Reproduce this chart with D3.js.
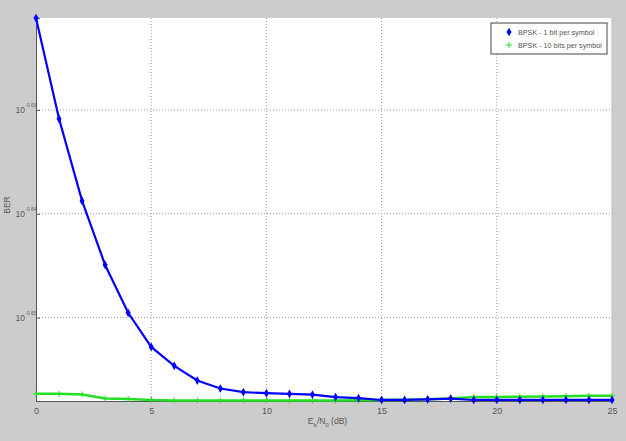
<!DOCTYPE html>
<html>
<head>
<meta charset="utf-8">
<script src="https://cdn.jsdelivr.net/npm/d3@7"></script>
<style>
  html, body { margin: 0; padding: 0; background: #cccccc; }
  svg { display: block; font-family: "Liberation Sans", Arial, sans-serif; }
</style>
</head>
<body>
<div id="js-chart"></div>
<script>
// Eb/N0 values (dB)
var ebno = d3.range(0, 26);
// BER, BPSK - 1 bit per symbol
var berOne = [0.23925, 0.23396, 0.22974, 0.22650, 0.22411, 0.22242, 0.22149, 0.22077,
    0.22038, 0.22020, 0.22015, 0.22012, 0.22008, 0.21996, 0.21991, 0.21982, 0.21982,
    0.21985, 0.21989, 0.21982, 0.21982, 0.21982, 0.21982, 0.21982, 0.21982, 0.21982];
// BER, BPSK - 10 bits per symbol
var berTen = [0.22012, 0.22012, 0.22009, 0.21989, 0.21987, 0.21982, 0.21980, 0.21980,
    0.21980, 0.21980, 0.21980, 0.21980, 0.21980, 0.21980, 0.21981, 0.21982, 0.21983,
    0.21985, 0.21989, 0.21996, 0.21997, 0.21998, 0.21999, 0.22000, 0.22002, 0.22002];
var xTicks = [0, 5, 10, 15, 20, 25];
var yTickExp = ["-0.63", "-0.64", "-0.65"];
var legendLabels = ["BPSK - 1 bit per symbol", "BPSK - 10 bits per symbol"];

var W = 626, H = 441;
var m = {left: 36, right: 14, top: 18, bottom: 40};
var iw = W - m.left - m.right, ih = H - m.top - m.bottom;

var svg = d3.select("#js-chart").append("svg")
    .attr("width", W).attr("height", H);
svg.append("rect").attr("width", W).attr("height", H).attr("fill", "#cccccc");

var g = svg.append("g").attr("transform", "translate(" + m.left + "," + m.top + ")");
g.append("rect").attr("width", iw).attr("height", ih).attr("fill", "#fff");

var x = d3.scaleLinear().domain([0, 25]).range([0, iw]);
var y = d3.scaleLog().domain([0.21977, 0.23925]).range([ih, 0]);

// 网格
var yTickVals = yTickExp.map(function (e) { return Math.pow(10, +e); });
g.selectAll(".gx").data(xTicks.slice(1, -1)).enter().append("line")
    .attr("x1", x).attr("x2", x).attr("y1", 0).attr("y2", ih)
    .attr("stroke", "#9a9a9a").attr("stroke-width", 1).attr("stroke-dasharray", "1,2");
g.selectAll(".gy").data(yTickVals).enter().append("line")
    .attr("x1", 0).attr("x2", iw).attr("y1", y).attr("y2", y)
    .attr("stroke", "#9a9a9a").attr("stroke-width", 1).attr("stroke-dasharray", "1,2");

// 坐标轴
var xAxis = g.append("g").attr("transform", "translate(0," + ih + ")")
    .call(d3.axisBottom(x).tickValues(xTicks).tickSize(-4).tickPadding(7).tickFormat(d3.format("d")));
var yAxis = g.append("g")
    .call(d3.axisLeft(y).tickValues(yTickVals).tickSize(-4).tickFormat(""));
[xAxis, yAxis].forEach(function (a) {
    a.select(".domain").attr("stroke", "#555");
    a.selectAll(".tick line").attr("stroke", "#555");
    a.selectAll("text").attr("fill", "#555").attr("font-size", 9);
});
g.append("line").attr("x1", iw).attr("x2", iw).attr("y1", 0).attr("y2", ih)
    .attr("stroke", "#bbb");

// y tick labels 10^exp
yTickVals.forEach(function (v, i) {
    g.append("text").attr("x", -11).attr("y", y(v) + 3)
        .attr("text-anchor", "end").attr("fill", "#555").attr("font-size", 8.5).text("10");
    g.append("text").attr("x", -10.5).attr("y", y(v) - 3)
        .attr("fill", "#555").attr("font-size", 4.8).text(yTickExp[i]);
});

// axis titles
svg.append("text").attr("transform", "translate(10,205) rotate(-90)")
    .attr("text-anchor", "middle").attr("fill", "#555").attr("font-size", 8.5).text("BER");
var xl = svg.append("text").attr("x", m.left + x(11.8)).attr("y", 424)
    .attr("fill", "#555").attr("font-size", 8.5);
xl.append("tspan").text("E");
xl.append("tspan").attr("font-size", 6).attr("dy", 3).text("b");
xl.append("tspan").attr("dy", -3).text("/N");
xl.append("tspan").attr("font-size", 6).attr("dy", 3).text("0");
xl.append("tspan").attr("dy", -3).text(" (dB)");

// 曲线
var line = d3.line().x(function (d) { return x(d[0]); }).y(function (d) { return y(d[1]); });
var series = [
    {data: d3.zip(ebno, berTen), color: "#22e022", width: 2.5, marker: "plus"},
    {data: d3.zip(ebno, berOne), color: "#0000ff", width: 2.2, marker: "diamond"}
];
var diamond = d3.symbol().type(d3.symbolDiamond).size(22);
series.forEach(function (s) {
    g.append("path").datum(s.data).attr("d", line).attr("fill", "none")
        .attr("stroke", s.color).attr("stroke-width", s.width);
    var pts = g.selectAll(null).data(s.data).enter().append("g")
        .attr("transform", function (d) { return "translate(" + x(d[0]) + "," + y(d[1]) + ")"; });
    if (s.marker === "plus") {
        pts.append("path").attr("d", "M-3,0H3M0,-3V3").attr("stroke", s.color).attr("stroke-width", 1);
    } else {
        pts.append("path").attr("d", diamond).attr("fill", s.color);
    }
});

// 图例
var lg = svg.append("g").attr("transform", "translate(491,23)");
lg.append("rect").attr("width", 116).attr("height", 31).attr("fill", "#fff")
    .attr("stroke", "#444").attr("stroke-width", 1);
legendLabels.forEach(function (t, i) {
    var yy = 9 + i * 13;
    if (i === 0) {
        lg.append("path").attr("transform", "translate(18," + yy + ")").attr("d", diamond).attr("fill", "#0000ff");
    } else {
        lg.append("path").attr("transform", "translate(18," + yy + ")")
            .attr("d", "M-3,0H3M0,-3V3").attr("stroke", "#22e022").attr("stroke-width", 1);
    }
    lg.append("text").attr("x", 27).attr("y", yy + 3).attr("fill", "#555")
        .attr("font-size", 7.2).text(t);
});
</script>
</body>
</html>
